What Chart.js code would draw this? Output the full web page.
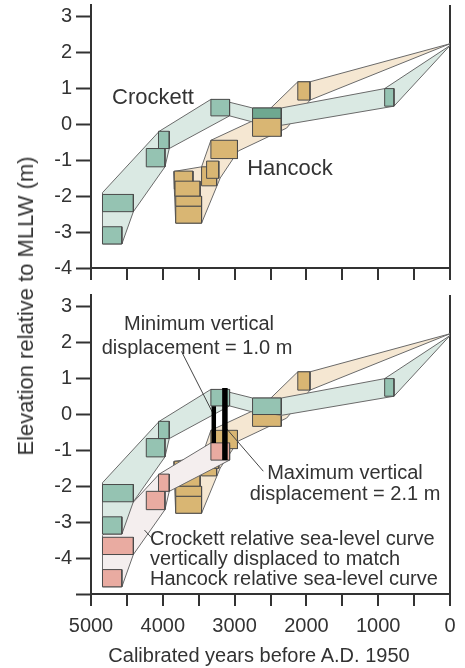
<!DOCTYPE html>
<html>
<head>
<meta charset="utf-8">
<script src="https://cdn.jsdelivr.net/npm/chart.js@4.4.1/dist/chart.umd.min.js"></script>
<style>
  body { margin: 0; background: #fff; }
  #wrap { position: relative; width: 465px; height: 668px; font-family: "Liberation Sans", Arial, sans-serif; color: #333; }
  canvas { position: absolute; left: 0; }
  .lbl { position: absolute; white-space: nowrap; font-size: 20px; line-height: 20px; transform: translate(-50%, -50%); }
  .left { transform: translate(0, -50%); }
</style>
</head>
<body>
<div id="wrap">
  <canvas id="topChart" width="465" height="290" style="top:0"></canvas>
  <canvas id="bottomChart" width="465" height="378" style="top:290px"></canvas>

  <div class="lbl" style="left:26px;top:306px;font-size:22px;transform:translate(-50%,-50%) rotate(-90deg)">Elevation relative to MLLW  (m)</div>
  <div class="lbl" style="left:153px;top:97px;font-size:22px">Crockett</div>
  <div class="lbl" style="left:290px;top:168px;font-size:22px">Hancock</div>
  <div class="lbl" style="left:199px;top:323px">Minimum vertical</div>
  <div class="lbl" style="left:197px;top:347px">displacement = 1.0 m</div>
  <div class="lbl" style="left:345px;top:472px">Maximum vertical</div>
  <div class="lbl" style="left:345px;top:493px">displacement = 2.1 m</div>
  <div class="lbl left" style="left:150px;top:538px">Crockett relative sea-level curve</div>
  <div class="lbl left" style="left:150px;top:558px">vertically displaced to match</div>
  <div class="lbl left" style="left:150px;top:578px">Hancock relative sea-level curve</div>
  <div class="lbl" style="left:259px;top:655px">Calibrated years before A.D. 1950</div>
</div>

<script>
/* ===== DATA (years before 1950, elevation m rel. MLLW) ===== */
// Crockett dated samples: older / younger age, top / bottom elevation
const crockettOld    = [4840, 4840, 4230, 4060, 3330, 2750, 910];
const crockettYoung  = [4570, 4410, 3970, 3910, 3070, 2350, 780];
const crockettTop    = [-2.85, -1.95, -0.67, -0.19, 0.70, 0.46, 1.00];
const crockettBottom = [-3.33, -2.43, -1.18, -0.67, 0.24, 0.00, 0.51];

// Hancock dated samples
const hancockOld    = [3840, 3830, 3820, 3820, 3460, 3390, 3330, 2750, 2120];
const hancockYoung  = [3580, 3480, 3460, 3460, 3250, 3220, 2960, 2350, 1950];
const hancockTop    = [-1.30, -1.58, -2.00, -2.28, -1.18, -1.02, -0.44, 0.17, 1.19];
const hancockBottom = [-1.80, -2.00, -2.28, -2.75, -1.71, -1.50, -0.95, -0.33, 0.68];

// sea-level envelopes (outline vertices)
const crockettEnvAge  = [4840, 4050, 3330, 3070, 2750, 2350, 910, 0, 780, 2340, 2750, 3070, 3910, 3970, 4410, 4570, 4840];
const crockettEnvElev = [-1.90, -0.19, 0.70, 0.62, 0.46, 0.46, 1.00, 2.20, 0.51, -0.02, 0.07, 0.24, -0.67, -1.18, -2.43, -3.33, -3.33];
const hancockEnvAge   = [3850, 3460, 3330, 2750, 2500, 2120, 1950, 0, 1950, 2275, 2950, 3200, 3460, 3820];
const hancockEnvElev  = [-1.31, -1.18, -0.44, 0.10, 0.45, 1.19, 1.19, 2.25, 0.68, -0.10, -0.74, -1.49, -2.75, -2.75];

// Crockett curve displaced down to match Hancock (bottom panel)
const shiftedOld    = [4840, 4840, 4230, 4060, 3330];
const shiftedYoung  = [4570, 4410, 3970, 3910, 3070];
const shiftedTop    = [-4.32, -3.42, -2.14, -1.66, -0.79];
const shiftedBottom = [-4.80, -3.90, -2.65, -2.14, -1.27];
const shiftedEnvAge  = [4840, 4050, 3330, 3070, 3070, 3910, 3970, 4410, 4570, 4840];
const shiftedEnvElev = [-3.37, -1.66, -0.79, -0.85, -1.27, -2.14, -2.65, -3.90, -4.80, -4.80];

// displacement bars (min, max)
const barAge    = [3290, 3135];
const barTop    = [0.23, 0.74];
const barBottom = [-0.79, -1.27];

// leader lines [fromAge, toAge, fromElev, toElev]
const leaderFromAge  = [3740, 3110, 4150];
const leaderToAge    = [3270, 2600, 4255];
const leaderFromElev = [1.76, -0.40, -3.45];
const leaderToElev   = [-0.09, -1.58, -3.22];

/* ===== STYLE ===== */
const FONT = "'Liberation Sans', Arial, sans-serif";
const INK = "#333";
const GREEN_BOX = "#95c3b2";
const GREEN_DARK = "#6fa890";
const GREEN_ENV = "#dae9e3";
const TAN_BOX = "#d9b673";
const TAN_ENV = "#f5e7d2";
const PINK_BOX = "#e9aba1";
const PINK_ENV = "#f4eeee";
const BOX_EDGE = "#4a4a4a";
const ENV_EDGE = "#6a6a6a";

/* ===== HELPERS ===== */
function rect(x0, x1, y0, y1) {
  return [{x: x0, y: y0}, {x: x1, y: y0}, {x: x1, y: y1}, {x: x0, y: y1}, {x: x0, y: y0}];
}

function outline(xs, ys) {
  const pts = xs.map((x, i) => ({x, y: ys[i]}));
  pts.push(pts[0]);
  return pts;
}

function shape(points, fillColor, edge, width) {
  return {
    data: points,
    backgroundColor: fillColor || "transparent",
    borderColor: edge,
    borderWidth: width,
    fill: fillColor ? "shape" : false,
    pointRadius: 0,
    tension: 0,
    borderCapStyle: "butt"
  };
}

function boxes(olds, youngs, tops, bottoms, color) {
  return olds.map((o, i) =>
    shape(rect(o, youngs[i], tops[i], bottoms[i]), Array.isArray(color) ? color[i] : color, BOX_EDGE, 1));
}

function envelope(xs, ys, color) {
  return shape(outline(xs, ys), color, ENV_EDGE, 1);
}

function makeChart(id, layers, yMin, xHeight, showXLabels) {
  // later layers are drawn on top
  const datasets = layers.map((d, i) => Object.assign(d, {order: -i}));
  return new Chart(document.getElementById(id), {
    type: "line",
    data: {datasets},
    options: {
      responsive: false,
      animation: false,
      events: [],
      layout: {padding: {left: 0, right: 15, top: 5, bottom: 0}},
      plugins: {legend: {display: false}, tooltip: {enabled: false}},
      scales: {
        x: {
          type: "linear",
          min: 0, max: 5000, reverse: true,
          border: {color: INK, width: 2},
          grid: {
            color: c => (c.tick && c.tick.value === 0 ? INK : "rgba(0,0,0,0)"),
            lineWidth: 2,
            tickLength: 12, tickWidth: 2, tickColor: INK
          },
          ticks: {
            stepSize: 500, includeBounds: false, autoSkip: false, maxRotation: 0,
            padding: 8, color: INK, font: {size: 20, family: FONT},
            callback: v => (showXLabels && v % 1000 === 0 ? String(v) : "")
          },
          afterFit: s => { s.height = xHeight; s.paddingLeft = 0; s.paddingRight = 0; }
        },
        y: {
          min: yMin, max: 3.33,
          border: {color: INK, width: 2},
          grid: {
            drawOnChartArea: false,
            tickLength: 15, tickWidth: 2, tickColor: INK,
            tickBorderDash: c => (Number.isInteger(c.tick.value) ? [] : [0, 6, 20, 0])
          },
          ticks: {
            stepSize: 0.5, includeBounds: false, padding: 4,
            color: INK, font: {size: 20, family: FONT},
            callback: v => (Number.isInteger(v) && v > -5 ? String(v) : "")
          },
          afterFit: s => { s.width = 91; s.paddingTop = 0; s.paddingBottom = 0; }
        }
      }
    }
  });
}

/* ===== TOP PANEL ===== */
const topGreen = crockettOld.map((_, i) => (i === 5 ? GREEN_DARK : GREEN_BOX));
makeChart("topChart", [
  envelope(hancockEnvAge, hancockEnvElev, TAN_ENV),
  envelope(crockettEnvAge, crockettEnvElev, GREEN_ENV),
  ...boxes(crockettOld, crockettYoung, crockettTop, crockettBottom, topGreen),
  ...boxes(hancockOld, hancockYoung, hancockTop, hancockBottom, TAN_BOX)
], -4, 22, false);

/* ===== BOTTOM PANEL ===== */
const bars = barAge.map((a, i) => shape([{x: a, y: barTop[i]}, {x: a, y: barBottom[i]}], null, "#000", i === 0 ? 4.5 : 5.5));
const leaders = leaderFromAge.map((a, i) =>
  shape([{x: a, y: leaderFromElev[i]}, {x: leaderToAge[i], y: leaderToElev[i]}], null, "#444", 1));

makeChart("bottomChart", [
  envelope(hancockEnvAge, hancockEnvElev, TAN_ENV),
  ...boxes(hancockOld, hancockYoung, hancockTop, hancockBottom, TAN_BOX),
  envelope(shiftedEnvAge, shiftedEnvElev, PINK_ENV),
  ...boxes(shiftedOld, shiftedYoung, shiftedTop, shiftedBottom, PINK_BOX),
  envelope(crockettEnvAge, crockettEnvElev, GREEN_ENV),
  ...boxes(crockettOld, crockettYoung, crockettTop, crockettBottom, GREEN_BOX),
  ...leaders,
  ...bars
], -5, 74, true);
</script>
</body>
</html>
